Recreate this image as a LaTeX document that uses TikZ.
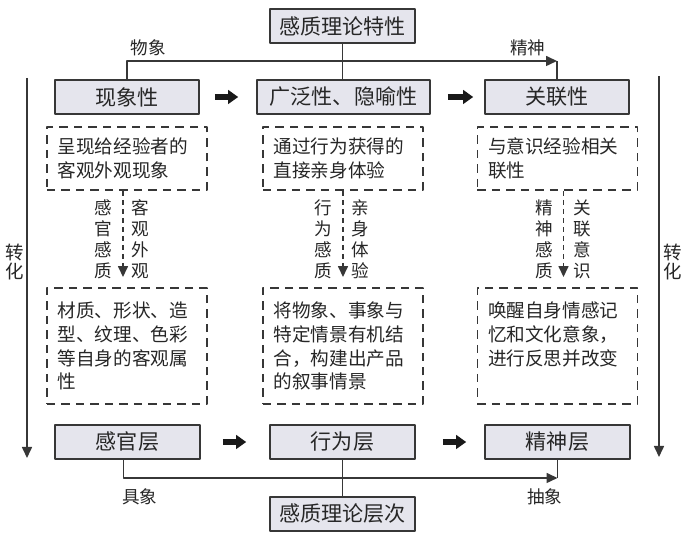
\documentclass[tikz,border=0pt]{standalone}
\usepackage{fontspec}
\newfontfamily\cjk{Noto Sans CJK SC}
\usepackage{tikz}
\usetikzlibrary{arrows.meta}
\definecolor{boxfill}{RGB}{229,229,237}
\definecolor{edgegray}{RGB}{55,55,55}

\tikzset{
  greybox/.style={draw=edgegray,fill=boxfill,line width=0.9pt,minimum height=0.68cm,inner sep=0pt,text=black!85,font=\cjk\fontsize{12}{14}\selectfont},
  dashbox/.style={draw=edgegray,line width=1.1pt,line cap=butt,dash pattern=on 0.17cm off 0.12cm,text width=2.78cm,inner xsep=0.21cm,align=left,text=black!85,font=\cjk\fontsize{10.6}{13.6}\selectfont},
  thinline/.style={draw=edgegray,line width=0.9pt},
  fatarrow/.style={-{Triangle[length=0.2cm,width=0.27cm]},line width=0.11cm,draw=black!90},
  dasharrow/.style={->,draw=edgegray,line width=0.9pt,line cap=butt,dash pattern=on 0.1cm off 0.08cm,shorten >=0.2cm},
  smalltext/.style={text=black!85,font=\cjk\fontsize{10}{12}\selectfont},
  vlabel/.style={inner sep=0pt,align=center,text=black!85,font=\cjk\fontsize{10}{12}\selectfont},
  zhlabel/.style={inner sep=0pt,align=center,text=black!85,font=\cjk\fontsize{10.5}{11}\selectfont},
}

\begin{document}
\begin{tikzpicture}[line join=round,>={Triangle[length=0.22cm,width=0.2cm]},x=1.0cm,y=1.0cm]
    \useasboundingbox (0,0) rectangle (13.64,10.68);
    % characteristics (top)
    \node[greybox,minimum width=2.9cm] (tx) at (6.85,10.16) {感质理论特性};
    \node[greybox,minimum width=2.88cm] (xx) at (2.54,8.74) {现象性};
    \node[greybox,minimum width=3.46cm] (gy) at (6.87,8.74) {广泛性、隐喻性};
    \node[greybox,minimum width=2.88cm] (gl) at (11.14,8.74) {关联性};
    \coordinate (tr) at (11.14,9.46);
    \draw[thinline,->] (xx.north) |- (tr);
    \draw[thinline] (gl.north) -- (tr);
    \draw[thinline] (tx.south) -- (tx.south |- gy.north);
    \node[smalltext] (wx) at (2.96,9.72) {物象};
    \node[smalltext] (js) at (10.56,9.72) {精神};
    \draw[fatarrow,shorten <=0.3cm,shorten >=0.36cm] (xx) -- (gy);
    \draw[fatarrow,shorten <=0.34cm,shorten >=0.22cm] (gy) -- (gl);
    % descriptions
    \node[dashbox,minimum height=1.26cm] (d1) at (2.54,7.51) {呈现给经验者的\\客观外观现象};
    \node[dashbox,minimum height=1.26cm] (d2) at (6.86,7.51) {通过行为获得的\\直接亲身体验};
    \node[dashbox,minimum height=1.26cm] (d3) at (11.15,7.51) {与意识经验相关\\联性};
    \node[dashbox,minimum height=2.32cm] (e1) at (2.54,3.76) {材质、形状、造\\型、纹理、色彩\\等自身的客观属\\性};
    \node[dashbox,minimum height=2.32cm] (e2) at (6.86,3.76) {将物象、事象与\\特定情景有机结\\合，构建出产品\\的叙事情景};
    \node[dashbox,minimum height=2.32cm] (e3) at (11.15,3.76) {唤醒自身情感记\\忆和文化意象，\\进行反思并改变\\ \mbox{}};
    \draw[dasharrow] ([xshift=-0.08cm]d1.south) -- ([xshift=-0.08cm]e1.north)
        node[vlabel,midway,left=0.2cm] (g1) {感\\官\\感\\质}
        node[vlabel,midway,right=0.15cm] (k1) {客\\观\\外\\观};
    \draw[dasharrow] (d2.south) -- (e2.north)
        node[vlabel,midway,left=0.2cm] (g2) {行\\为\\感\\质}
        node[vlabel,midway,right=0.15cm] (k2) {亲\\身\\体\\验};
    \draw[dasharrow] ([xshift=0.12cm]d3.south) -- ([xshift=0.12cm]e3.north)
        node[vlabel,midway,left=0.19cm] (g3) {精\\神\\感\\质}
        node[vlabel,midway,right=0.19cm] (k3) {关\\联\\意\\识};
    % levels (bottom)
    \node[greybox,minimum width=2.9cm] (gg) at (2.55,1.84) {感官层};
    \node[greybox,minimum width=2.9cm] (xw) at (6.85,1.84) {行为层};
    \node[greybox,minimum width=2.9cm] (jc) at (11.15,1.84) {精神层};
    \node[greybox,minimum width=2.9cm] (tc) at (6.85,0.4) {感质理论层次};
    \coordinate (bp) at (11.15,1.12);
    \draw[thinline,->] ([xshift=-0.08cm]gg.south) |- (bp);
    \draw[thinline] (jc.south) -- (bp);
    \draw[thinline] (xw.south) -- (tc.north);
    \node[smalltext] (jx) at (2.8,0.74) {具象};
    \node[smalltext] (cx) at (10.9,0.74) {抽象};
    \draw[fatarrow,shorten <=0.44cm,shorten >=0.46cm] (gg) -- (xw);
    \draw[fatarrow,shorten <=0.54cm,shorten >=0.36cm] (xw) -- (jc);
    % transformation
    \coordinate (la) at (0.54,9.12);
    \coordinate (lb) at (0.54,1.52);
    \coordinate (ra) at (13.18,9.16);
    \coordinate (rb) at (13.18,1.54);
    \draw[thinline,->] (la) -- (lb);
    \draw[thinline,->] (ra) -- (rb);
    \node[zhlabel] (zl) at (0.3,5.44) {转\\化};
    \node[zhlabel] (zr) at (13.46,5.44) {转\\化};
\end{tikzpicture}
\end{document}
